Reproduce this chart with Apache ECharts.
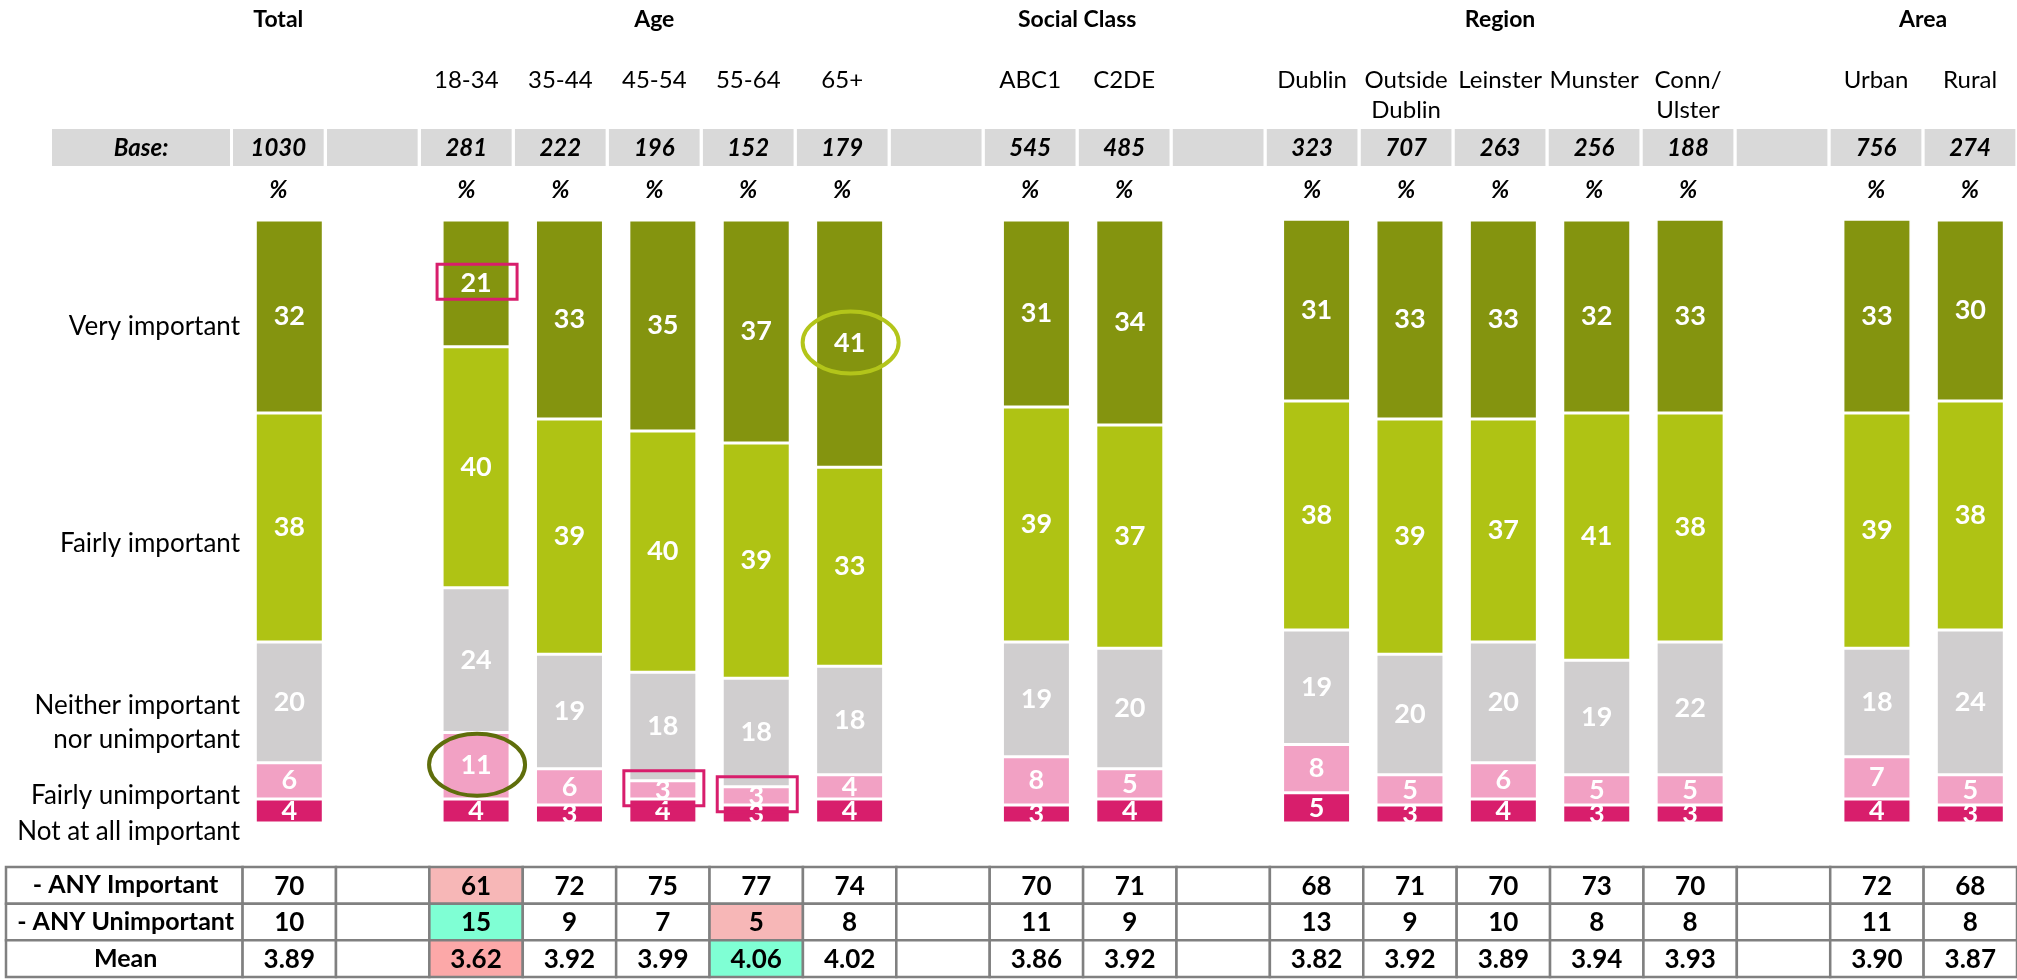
<!DOCTYPE html>
<html>
<head>
<meta charset="utf-8">
<script src="https://cdn.jsdelivr.net/npm/echarts@6/dist/echarts.min.js"></script>
<style>
html, body { margin: 0; padding: 0; background: #fff; }
#chart { width: 2017px; height: 980px; }
</style>
</head>
<body>
<div id="chart"></div>
<script>
// columns of the banner, blank ones are the spacers between groups
const columns = ['Total', 'gap1', '18-34', '35-44', '45-54', '55-64', '65+', 'gap2', 'ABC1', 'C2DE', 'gap3',
  'Dublin', 'Outside Dublin', 'Leinster', 'Munster', 'Conn/Ulster', 'gap4', 'Urban', 'Rural'];
const columnLabels = ['', '', '18-34', '35-44', '45-54', '55-64', '65+', '', 'ABC1', 'C2DE', '',
  'Dublin', 'Outside\nDublin', 'Leinster', 'Munster', 'Conn/\nUlster', '', 'Urban', 'Rural'];
const groupTitles = ['Total', 'Age', 'Social Class', 'Region', 'Area'];
const groupSpans = [[0, 0], [2, 6], [8, 9], [11, 15], [17, 18]];
const bases = [1030, null, 281, 222, 196, 152, 179, null, 545, 485, null, 323, 707, 263, 256, 188, null, 756, 274];

// answer levels, top of the bar first
const levels = ['Very important', 'Fairly important', 'Neither important\nnor unimportant', 'Fairly unimportant', 'Not at all important'];
const veryImportant     = [32, null, 21, 33, 35, 37, 41, null, 31, 34, null, 31, 33, 33, 32, 33, null, 33, 30];
const fairlyImportant   = [38, null, 40, 39, 40, 39, 33, null, 39, 37, null, 38, 39, 37, 41, 38, null, 39, 38];
const neither           = [20, null, 24, 19, 18, 18, 18, null, 19, 20, null, 19, 20, 20, 19, 22, null, 18, 24];
const fairlyUnimportant = [6, null, 11, 6, 3, 3, 4, null, 8, 5, null, 8, 5, 6, 5, 5, null, 7, 5];
const notAtAll          = [4, null, 4, 3, 4, 3, 4, null, 3, 4, null, 5, 3, 4, 3, 3, null, 4, 3];

// summary table
const tableRows = ['- ANY Important', '- ANY Unimportant', 'Mean'];
const anyImportant   = [70, null, 61, 72, 75, 77, 74, null, 70, 71, null, 68, 71, 70, 73, 70, null, 72, 68];
const anyUnimportant = [10, null, 15, 9, 7, 5, 8, null, 11, 9, null, 13, 9, 10, 8, 8, null, 11, 8];
const means = ['3.89', null, '3.62', '3.92', '3.99', '4.06', '4.02', null, '3.86', '3.92', null,
  '3.82', '3.92', '3.89', '3.94', '3.93', null, '3.90', '3.87'];
// [column, row, tone] significant differences
const flaggedCells = [['18-34', 0, 'red'], ['18-34', 1, 'green'], ['18-34', 2, 'red2'], ['55-64', 1, 'red'], ['55-64', 2, 'green']];
// [column, level index] circled / boxed values
const annotations = [['18-34', 0, 'box'], ['65+', 0, 'ringLight'], ['18-34', 3, 'ringDark'], ['45-54', 3, 'box'], ['55-64', 3, 'box']];

const FONT = 'Lato, "Open Sans", sans-serif';
const levelColors = ['#84940f', '#afc314', '#d0cecf', '#f2a1c4', '#d81e6c'];
const toneColors = { red: '#f7b7b7', red2: '#fca8a8', green: '#7fffd4' };
const levelData = [veryImportant, fairlyImportant, neither, fairlyUnimportant, notAtAll];
const tableValues = [anyImportant, anyUnimportant, means];

const chart = echarts.init(document.getElementById('chart'));

function headerItem(params, api) {
    const i = api.value(0);
    const x = api.coord([i, 0])[0];
    const w = api.size([1, 0])[0] - 3.3;
    const y = v => api.coord([i, v])[1];
    const italic = { fontFamily: FONT, fontSize: 24, fontWeight: 'bold', fontStyle: 'italic', fill: '#000', align: 'center', verticalAlign: 'middle' };
    const children = [
        { type: 'rect', shape: { x: x - w / 2, y: y(129), width: w, height: y(166) - y(129) }, style: { fill: '#d9d9d9' } }
    ];
    if (i === 0) {
        const right = x - w / 2 - 3;
        children.push({ type: 'rect', shape: { x: 52, y: y(129), width: right - 52, height: y(166) - y(129) }, style: { fill: '#d9d9d9' } });
        children.push({ type: 'text', style: Object.assign({ text: 'Base:', x: (52 + right) / 2, y: y(148) }, italic) });
    }
    if (bases[i] != null) {
        children.push({ type: 'text', style: Object.assign({ text: String(bases[i]), x: x, y: y(148) }, italic) });
        children.push({ type: 'text', style: Object.assign({ text: '%', x: x, y: y(190) }, italic) });
    }
    if (columnLabels[i]) {
        children.push({ type: 'text', style: { text: columnLabels[i], x: x, y: y(65), align: 'center', verticalAlign: 'top',
            lineHeight: 30, fontFamily: FONT, fontSize: 24, fill: '#000' } });
    }
    groupSpans.forEach((span, g) => {
        if (span[0] !== i) return;
        const cx = (api.coord([span[0], 0])[0] + api.coord([span[1], 0])[0]) / 2;
        children.push({ type: 'text', style: { text: groupTitles[g], x: cx, y: y(20), align: 'center', verticalAlign: 'middle',
            fontFamily: FONT, fontSize: 23, fontWeight: 'bold', fill: '#000' } });
    });
    return { type: 'group', children: children };
}

function tableItem(params, api) {
    const ci = api.value(0), ri = api.value(1);
    const c = api.coord([ci, ri]);
    const s = api.size([1, 1]);
    const x0 = c[0] - s[0] / 2, y0 = c[1] - s[1] / 2;
    const flag = flaggedCells.find(f => columns.indexOf(f[0]) === ci && f[1] === ri);
    const v = tableValues[ri][ci];
    const children = [];
    if (ci === 0) {
        children.push({ type: 'rect', shape: { x: 6, y: y0, width: x0 - 6, height: s[1] }, style: { fill: '#fff', stroke: '#808080', lineWidth: 2.5 } });
    }
    children.push({ type: 'rect', shape: { x: x0, y: y0, width: s[0], height: s[1] },
        style: { fill: flag ? toneColors[flag[2]] : '#fff', stroke: '#808080', lineWidth: 2.5 } });
    if (v != null) {
        children.push({ type: 'text', style: { text: String(v), x: c[0], y: c[1] + 1, align: 'center', verticalAlign: 'middle',
            fontFamily: FONT, fontSize: 26, fontWeight: 'bold', fill: '#000' } });
    }
    return { type: 'group', children: children };
}

const barSeries = levels.map((name, k) => ({ name: name, level: k })).reverse().map(l => ({
    name: l.name,
    type: 'bar',
    stack: 'share',
    xAxisIndex: 0,
    yAxisIndex: 0,
    barWidth: 68,
    data: levelData[l.level],
    itemStyle: { color: levelColors[l.level], borderColor: '#fff', borderWidth: 1.5 },
    label: { show: true, position: 'inside', color: '#fff', fontFamily: FONT, fontSize: 27, fontWeight: 'bold' }
}));

const tableCells = [];
tableRows.forEach((r, ri) => columns.forEach((c, ci) => tableCells.push([ci, ri])));

const levelLabelY = [327, 544, 723, 796, 832];
const levelTexts = levels.map((t, k) => ({
    type: 'text', x: 240, y: levelLabelY[k],
    style: { text: t, align: 'right', verticalAlign: 'middle', lineHeight: 34, fontFamily: FONT, fontSize: 26, fill: '#000' }
}));

chart.setOption({
    animation: false,
    backgroundColor: '#fff',
    grid: [
        { left: 242.6, width: 1781.25, top: 220, height: 603 },
        { left: 231.35, width: 1791.7, top: 0, height: 220 },
        { left: 242.6, width: 1781.25, top: 867, height: 110 }
    ],
    xAxis: [
        { gridIndex: 0, type: 'category', data: columns, show: false },
        { gridIndex: 1, type: 'category', data: columns, show: false },
        { gridIndex: 2, type: 'category', data: columns, show: false }
    ],
    yAxis: [
        { gridIndex: 0, type: 'value', min: 0, max: 100, show: false },
        { gridIndex: 1, type: 'value', min: 0, max: 220, inverse: true, show: false },
        { gridIndex: 2, type: 'category', data: tableRows, inverse: true,
          axisLine: { show: false }, axisTick: { show: false }, splitLine: { show: false },
          axisLabel: { show: true, align: 'center', margin: 117, color: '#000', fontFamily: FONT, fontSize: 25, fontWeight: 'bold' },
          z: 10 }
    ],
    series: barSeries.concat([
        { type: 'custom', name: 'header', xAxisIndex: 1, yAxisIndex: 1, clip: false, silent: true,
          data: columns.map((c, i) => [i, 0]), renderItem: headerItem },
        { type: 'custom', name: 'table', xAxisIndex: 2, yAxisIndex: 2, clip: false, silent: true,
          data: tableCells, renderItem: tableItem }
    ])
});

// boxes and rings drawn around the flagged segments, placed via the bar axes
const marks = annotations.map(a => {
    const ci = columns.indexOf(a[0]);
    let below = 0;
    for (let k = a[1] + 1; k < levelData.length; k++) below += levelData[k][ci];
    const mid = below + levelData[a[1]][ci] / 2;
    const p = chart.convertToPixel({ gridIndex: 0 }, [ci, mid]);
    if (a[2] === 'box') {
        return { type: 'rect', shape: { x: p[0] - 39, y: p[1] - 19, width: 80, height: 35 },
            style: { fill: 'none', stroke: '#d81e6c', lineWidth: 3 }, z: 100 };
    }
    return { type: 'ellipse', shape: { cx: p[0] + 1, cy: p[1] - 1, rx: 48, ry: 31 },
        style: { fill: 'none', stroke: a[2] === 'ringLight' ? '#b3c51a' : '#5f6e0b', lineWidth: 4 }, z: 100 };
});
chart.setOption({ graphic: levelTexts.concat(marks) });
</script>
</body>
</html>
